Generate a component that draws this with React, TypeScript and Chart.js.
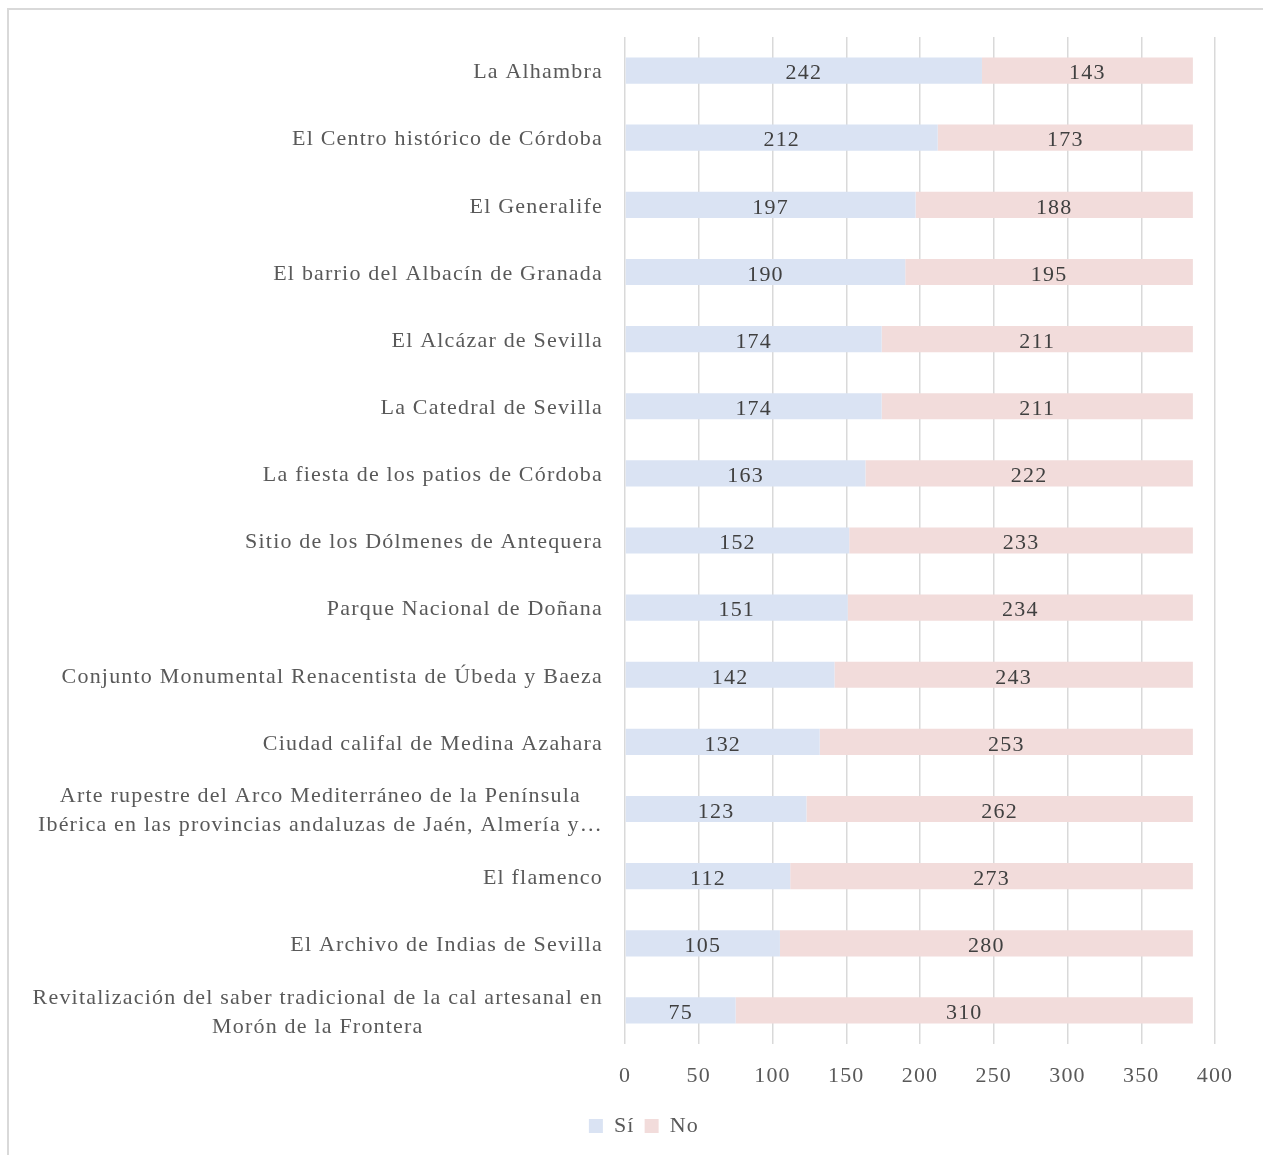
import React, { useEffect, useRef } from "react";
import { Chart, registerables } from "chart.js";

Chart.register(...registerables);

const categories: string[][] = [
  ["La Alhambra"],
  ["El Centro histórico de Córdoba"],
  ["El Generalife"],
  ["El barrio del Albacín de Granada"],
  ["El Alcázar de Sevilla"],
  ["La Catedral de Sevilla"],
  ["La fiesta de los patios de Córdoba"],
  ["Sitio de los Dólmenes de Antequera"],
  ["Parque Nacional de Doñana"],
  ["Conjunto Monumental Renacentista de Úbeda y Baeza"],
  ["Ciudad califal de Medina Azahara"],
  ["Arte rupestre del Arco Mediterráneo de la Península", "Ibérica en las provincias andaluzas de Jaén, Almería y…"],
  ["El flamenco"],
  ["El Archivo de Indias de Sevilla"],
  ["Revitalización del saber tradicional de la cal artesanal en", "Morón de la Frontera"],
];

const siValues: number[] = [242, 212, 197, 190, 174, 174, 163, 152, 151, 142, 132, 123, 112, 105, 75];
const noValues: number[] = [143, 173, 188, 195, 211, 211, 222, 233, 234, 243, 253, 262, 273, 280, 310];

const xTicks: number[] = [0, 50, 100, 150, 200, 250, 300, 350, 400];

const FONT = "'Liberation Serif', 'DejaVu Serif', serif";
const TEXT = "#595959";
const SPACING = "1.2px";

const spacingPlugin = {
  id: "spacing",
  beforeDraw(chart: any) {
    const ctx = chart.ctx as CanvasRenderingContext2D;
    (ctx as any).letterSpacing = SPACING;
    ctx.save();
    ctx.strokeStyle = "#d9d9d9";
    ctx.lineWidth = 2;
    ctx.beginPath();
    ctx.moveTo(8, chart.height + 5);
    ctx.lineTo(8, 9);
    ctx.lineTo(chart.width + 5, 9);
    ctx.stroke();
    ctx.restore();
  },
};

const labelPlugin = {
  id: "customLabels",
  afterDatasetsDraw(chart: any) {
    const ctx = chart.ctx as CanvasRenderingContext2D;
    const yScale = chart.scales.y;
    const area = chart.chartArea;
    ctx.save();
    (ctx as any).letterSpacing = SPACING;
    ctx.font = `22px ${FONT}`;
    ctx.fillStyle = TEXT;
    ctx.textBaseline = "middle";
    ctx.textAlign = "center";
    const right = area.left - 22;
    const lh = 29;
    categories.forEach((lines, i) => {
      const y = yScale.getPixelForTick(i);
      const maxW = Math.max(...lines.map((l) => ctx.measureText(l).width));
      const cx = right - maxW / 2;
      const y0 = y - ((lines.length - 1) * lh) / 2;
      lines.forEach((l, j) => ctx.fillText(l, cx, y0 + j * lh + 2));
    });
    ctx.fillStyle = "#404040";
    chart.data.datasets.forEach((ds: any, di: number) => {
      const meta = chart.getDatasetMeta(di);
      meta.data.forEach((el: any, i: number) => {
        const cx = (el.x + el.base) / 2;
        ctx.fillText(String(ds.data[i]), cx, el.y + 3);
      });
    });
    ctx.restore();
  },
};

export default function App() {
  const ref = useRef<HTMLCanvasElement>(null);
  useEffect(() => {
    if (!ref.current) return;
    const chart = new Chart(ref.current, {
      type: "bar",
      data: {
        labels: categories.map((c) => c.join(" ")),
        datasets: [
          { label: "Sí", data: siValues, backgroundColor: "#dae3f3", categoryPercentage: 1, barPercentage: 0.39 },
          { label: "No", data: noValues, backgroundColor: "#f2dcdb", categoryPercentage: 1, barPercentage: 0.39 },
        ],
      },
      options: {
        indexAxis: "y",
        animation: false,
        responsive: false,
        devicePixelRatio: 1,
        layout: { padding: { left: 68, right: 48, top: 37, bottom: 8 } },
        scales: {
          x: {
            stacked: true,
            min: 0,
            max: 400,
            afterBuildTicks: (s: any) => {
              s.ticks = xTicks.map((v) => ({ value: v }));
            },
            afterFit: (s: any) => {
              s.height = 61;
            },
            grid: { color: "#d9d9d9", lineWidth: 1.5, drawTicks: false },
            border: { display: false },
            ticks: { color: TEXT, font: { family: FONT, size: 22 }, padding: 19 },
          },
          y: {
            stacked: true,
            grid: { display: false },
            border: { display: false },
            ticks: { display: false },
            afterFit: (s: any) => {
              s.width = 557;
            },
          },
        },
        plugins: {
          legend: {
            position: "bottom",
            labels: {
              color: TEXT,
              font: { family: FONT, size: 22 },
              boxWidth: 14,
              boxHeight: 14,
              padding: 10,
            },
          },
          tooltip: { enabled: false },
        },
      },
      plugins: [spacingPlugin, labelPlugin],
    });
    return () => chart.destroy();
  }, []);
  return (
    <div style={{ position: "absolute", left: 0, top: 0, width: 1263, height: 1155, background: "#fff", overflow: "hidden" }}>
      <canvas ref={ref} width={1263} height={1155} style={{ position: "absolute", left: 0, top: 0 }} />
    </div>
  );
}
